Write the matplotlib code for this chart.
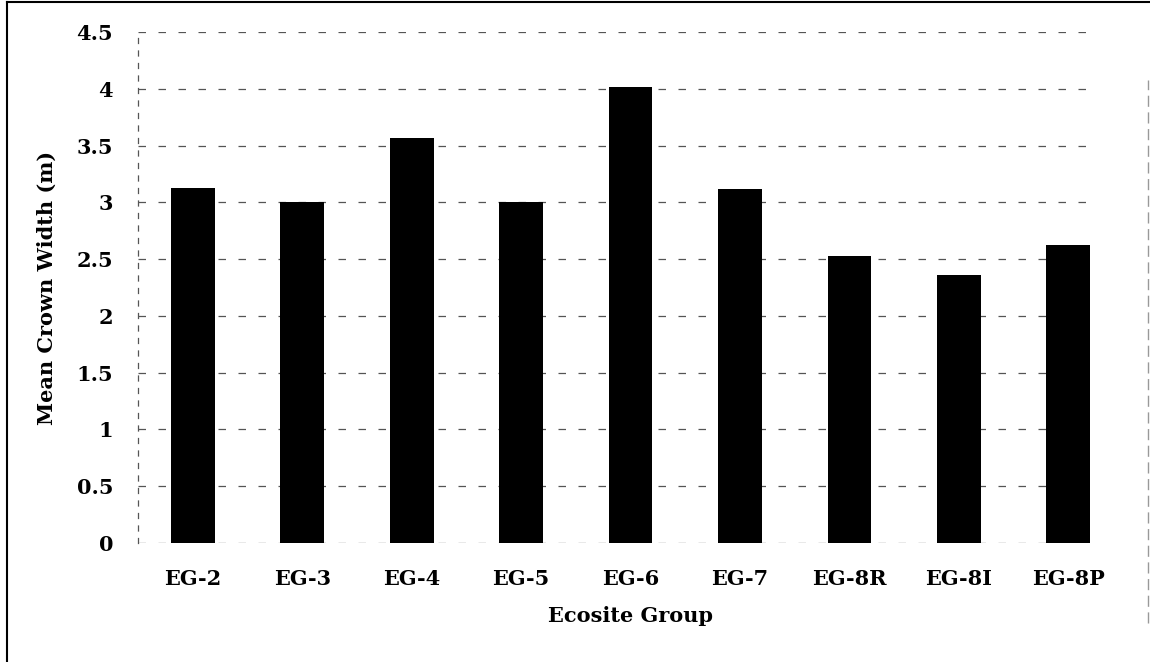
import matplotlib.pyplot as plt
from matplotlib.lines import Line2D

groups = ["EG-2", "EG-3", "EG-4", "EG-5", "EG-6", "EG-7", "EG-8R", "EG-8I", "EG-8P"]
crown_width = [3.13, 3.00, 3.57, 3.00, 4.02, 3.12, 2.53, 2.36, 2.62]
yticks = [0, 0.5, 1, 1.5, 2, 2.5, 3, 3.5, 4, 4.5]

plt.rcParams["font.family"] = ["DejaVu Serif"]
plt.rcParams["font.weight"] = "bold"

W, H = 1150, 662
fig = plt.figure(figsize=(W / 100, H / 100), dpi=100)
ax = fig.add_axes([138 / W, 1 - 543 / H, (1123 - 138) / W, (543 - 32) / H])

x = list(range(len(groups)))
ax.bar(x, crown_width, width=0.4, color="black", zorder=3)

ax.set_xlim(-0.5, len(groups) - 0.5)
ax.set_ylim(0, 4.5)
ax.set_yticks(yticks)
ax.set_yticklabels([f"{t:g}" for t in yticks])
ax.set_xticks(x)
ax.set_xticklabels(groups)
ax.tick_params(axis="both", length=0, labelsize=15)
ax.tick_params(axis="x", pad=19)
ax.tick_params(axis="y", pad=18)

# dashed gridlines, ending at the right edge of the last bar as in the scan
ax.hlines(yticks, -0.5, len(groups) - 1 + 0.2, color="#555555",
          linestyles=(0, (6, 10)), linewidth=0.9, zorder=1)
for s in ["top", "right", "bottom"]:
    ax.spines[s].set_visible(False)
ax.spines["left"].set_linestyle((0, (4, 6)))
ax.spines["left"].set_color("#555555")
ax.spines["left"].set_linewidth(0.9)

ax.set_ylabel("Mean Crown Width (m)", fontsize=15, fontweight="bold", labelpad=14)
ax.set_xlabel("Ecosite Group", fontsize=15, fontweight="bold", labelpad=12)

# outer frame of the scanned figure
fig.add_artist(Line2D([7 / W, 7 / W], [0, 1 - 2 / H], color="black", lw=1.5, transform=fig.transFigure))
fig.add_artist(Line2D([7 / W, 1], [1 - 2 / H, 1 - 2 / H], color="black", lw=1.5, transform=fig.transFigure))
fig.add_artist(Line2D([1148 / W, 1148 / W], [1 - 623 / H, 1 - 80 / H], color="#999999",
                      lw=1.0, linestyle=(0, (8, 4)), transform=fig.transFigure))

fig.savefig("out.png", dpi=100)
